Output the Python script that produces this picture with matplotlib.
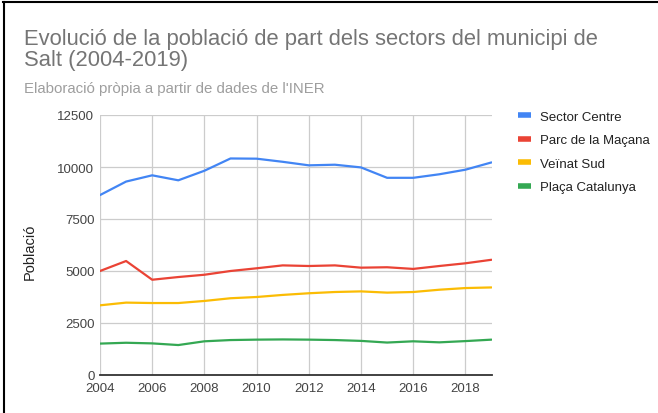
import matplotlib
matplotlib.use("Agg")
import matplotlib.pyplot as plt
from matplotlib.lines import Line2D

years = list(range(2004, 2020))
sector_centre = [8650, 9300, 9600, 9360, 9820, 10410, 10400, 10250, 10080, 10110,
                 9980, 9480, 9480, 9650, 9870, 10220]
parc_macana = [5000, 5480, 4580, 4710, 4820, 5000, 5130, 5270, 5240, 5270,
               5160, 5180, 5100, 5240, 5370, 5540]
veinat_sud = [3350, 3480, 3460, 3460, 3560, 3690, 3750, 3850, 3930, 3990,
              4020, 3960, 3990, 4100, 4180, 4210]
placa_catalunya = [1510, 1550, 1520, 1440, 1620, 1680, 1700, 1710, 1700, 1680,
                   1640, 1560, 1620, 1570, 1630, 1700]

series = [
    ("Sector Centre", sector_centre, "#4285F4"),
    ("Parc de la Maçana", parc_macana, "#EA4335"),
    ("Veïnat Sud", veinat_sud, "#FBBC04"),
    ("Plaça Catalunya", placa_catalunya, "#34A853"),
]
x_ticks = list(range(2004, 2019, 2))
y_ticks = [0, 2500, 5000, 7500, 10000, 12500]

plt.rcParams["font.family"] = ["Liberation Sans", "DejaVu Sans"]

W, H = 658, 414
fig = plt.figure(figsize=(W / 100, H / 100), dpi=100)
fig.patch.set_facecolor("white")


def fx(px):
    return px / W


def fy(py):
    return 1 - py / H


ax = fig.add_axes([fx(100), fy(376), fx(491.5) - fx(100), fy(116) - fy(376)])

for name, vals, col in series:
    ax.plot(years, vals, color=col, lw=1.6, label=name, solid_capstyle="round")

ax.set_xlim(2004, 2019)
ax.set_ylim(0, 12500)
ax.set_xticks(x_ticks)
ax.set_yticks(y_ticks)
ax.tick_params(length=0, labelsize=9.5, colors="#444444")
ax.tick_params(axis="x", pad=5)
ax.tick_params(axis="y", pad=4)
ax.grid(color="#cccccc", lw=0.9)
ax.set_axisbelow(True)
for s in ["top", "right", "left"]:
    ax.spines[s].set_visible(False)
ax.spines["bottom"].set_color("#333333")
ax.spines["bottom"].set_linewidth(1.3)

fig.text(fx(29.5), fy(252), "Població", rotation=90, fontsize=10.5,
         color="#222222", ha="center", va="center")

# two-line title as one text
fig.text(fx(24), fy(29),
         "Evolució de la població de part dels sectors del municipi de\nSalt (2004-2019)",
         fontsize=15.8, color="#757575", va="top", ha="left", linespacing=0.98)
fig.text(fx(24), fy(93.3), "Elaboració pròpia a partir de dades de l'INER",
         fontsize=10.8, color="#9e9e9e", va="baseline", ha="left")

handles = [Line2D([], [], color=c, lw=4, solid_capstyle="butt") for _, _, c in series]
fig.legend(handles, [n for n, _, _ in series], loc="upper left",
           bbox_to_anchor=(fx(511), fy(105)), frameon=False, fontsize=9.5,
           borderpad=0, handlelength=1.0, handletextpad=0.68, labelspacing=0.85,
           labelcolor="#222222")

# screenshot frame (top and left edges)
fig.add_artist(Line2D([fx(3), 1], [fy(3), fy(3)], color="black", lw=1.5))
fig.add_artist(Line2D([fx(3.5), fx(3.5)], [fy(3), 0], color="black", lw=1.5))

fig.savefig("out.png", dpi=100)
